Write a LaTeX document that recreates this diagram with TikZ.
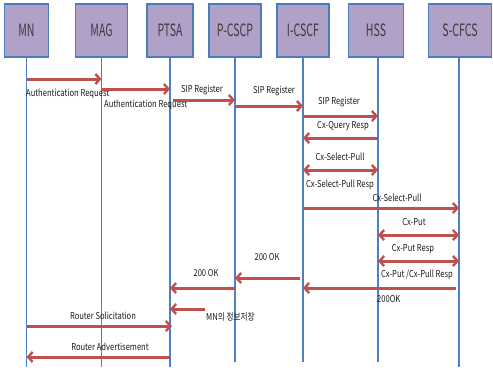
\documentclass[tikz,border=0pt]{standalone}
\usepackage{fontspec}
\usetikzlibrary{arrows.meta}
\newfontfamily\hdrfont[FakeStretch=0.62]{Noto Sans CJK KR}
\newfontfamily\lblfont[FakeStretch=0.8]{Noto Sans CJK KR}
\definecolor{boxfill}{HTML}{B1A0C7}
\definecolor{boxline}{HTML}{4A7EBB}
\definecolor{lifeline}{HTML}{4F81BD}
\definecolor{msg}{HTML}{C0504D}
\definecolor{txt}{HTML}{1A1A1A}
\tikzset{
  entity/.style={draw=boxline, line width=1.6pt, fill=boxfill, minimum height=53pt,
    inner sep=0pt, font=\hdrfont\fontsize{17}{17}\selectfont, text=txt!85!white},
  life/.style={draw=lifeline, line width=1.6pt},
  msgarrow/.style={draw=msg, line width=3pt, -{Straight Barb[length=4.5pt,width=10pt,line width=2.4pt]}},
  biarrow/.style={draw=msg, line width=3pt, {Straight Barb[length=4.5pt,width=10pt,line width=2.4pt]}-{Straight Barb[length=4.5pt,width=10pt,line width=2.4pt]}},
  lbl/.style={font=\lblfont\fontsize{9.5}{9.5}\selectfont, text=txt, inner sep=0pt}
}
\begin{document}
\begin{tikzpicture}[x=1pt,y=-1pt]
\useasboundingbox (0,0) rectangle (493,370);
% entities
\node[entity, minimum width=44pt] (MN) at (26.5,30.5) {MN};
\node[entity, minimum width=52pt] (MAG) at (101.5,30.5) {MAG};
\node[entity, minimum width=46pt] (PTSA) at (170,30.5) {PTSA};
\node[entity, minimum width=52pt] (PCSCP) at (235,30.5) {P-CSCP};
\node[entity, minimum width=52pt] (ICSCF) at (303,30.5) {I-CSCF};
\node[entity, minimum width=55pt] (HSS) at (376,30.5) {HSS};
\node[entity, minimum width=63pt] (SCFCS) at (460,30.5) {S-CFCS};
% lifeline ends
\coordinate (MNe) at (26.5,367);
\coordinate (MAGe) at (101.5,367);
\coordinate (PTSAe) at (170,367);
\coordinate (PCSCPe) at (235,362);
\coordinate (ICSCFe) at (303,362);
\coordinate (HSSe) at (378,362);
\coordinate (SCFCSe) at (459,367);
\draw[life] (MN.south) -- (MNe);
\draw[life] (MAG.south) -- (MAGe);
\draw[life] (PTSA.south) -- (PTSAe);
\draw[life] (PCSCP.south) -- (PCSCPe);
\draw[life] (ICSCF.south) -- (ICSCFe);
\draw[life] (HSSe |- HSS.south) -- (HSSe);
\draw[life] (SCFCSe |- SCFCS.south) -- (SCFCSe);
% messages
\draw[msgarrow] (MNe |- 0,79) -- (MAGe |- 0,79);
\node[lbl, anchor=west] (l1) at (26,94) {Authentication Request};
\draw[msgarrow] (MAGe |- 0,89) -- (PTSAe |- 0,89);
\node[lbl, anchor=west] (l2) at (104,105) {Authentication Request};
\draw[msgarrow] (173,100) -- (PCSCPe |- 0,100);
\node[lbl] (l3) at (202,90) {SIP Register};
\draw[msgarrow] (PCSCPe |- 0,106) -- (ICSCFe |- 0,106);
\node[lbl] (l4) at (274,91) {SIP Register};
\draw[msgarrow] (ICSCFe |- 0,116) -- (HSSe |- 0,116);
\node[lbl] (l5) at (339,102) {SIP Register};
\draw[msgarrow] (HSSe |- 0,138) -- (ICSCFe |- 0,138);
\node[lbl] (l6) at (343,126) {Cx-Query Resp};
\draw[biarrow] (ICSCFe |- 0,170) -- (HSSe |- 0,170);
\node[lbl] (l7) at (340,157) {Cx-Select-Pull};
\node[lbl] (l8) at (340,185) {Cx-Select-Pull Resp};
\draw[msgarrow] (ICSCFe |- 0,208) -- (SCFCSe |- 0,208);
\node[lbl] (l9) at (397,198) {Cx-Select-Pull};
\draw[biarrow] (HSSe |- 0,235) -- (SCFCSe |- 0,235);
\node[lbl] (l10) at (414,222) {Cx-Put};
\draw[biarrow] (HSSe |- 0,261) -- (SCFCSe |- 0,261);
\node[lbl] (l11) at (413,249) {Cx-Put Resp};
\draw[msgarrow] (456,288) -- (ICSCFe |- 0,288);
\node[lbl] (l12) at (417,275) {Cx-Put /Cx-Pull Resp};
\node[lbl, anchor=west] (l13) at (377,299) {200OK};
\draw[msgarrow] (300,278) -- (PCSCPe |- 0,278);
\node[lbl] (l14) at (267,257) {200 OK};
\draw[msgarrow] (PCSCPe |- 0,288) -- (PTSAe |- 0,288);
\node[lbl] (l15) at (206,273) {200 OK};
\coordinate (store) at (205,309);
\draw[msgarrow] (store) -- (PTSAe |- store);
\node[lbl, anchor=west] (l16) at (206,317) {MN의 정보저장};
\draw[msgarrow] (MNe |- 0,326) -- (172,326);
\node[lbl] (l17) at (103,316) {Router Solicitation};
\draw[msgarrow] (PTSAe |- 0,357) -- (MNe |- 0,357);
\node[lbl] (l18) at (110,347) {Router Advertisement};
\end{tikzpicture}
\end{document}
